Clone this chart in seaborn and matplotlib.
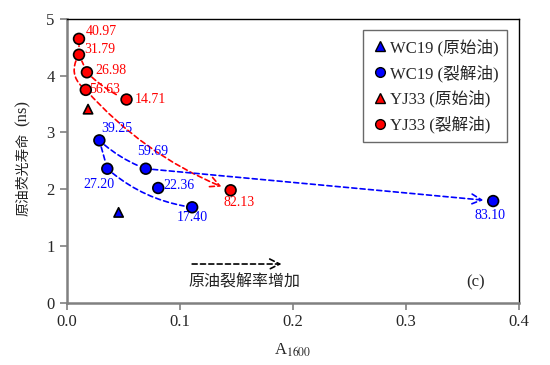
import numpy as np
import pandas as pd
import matplotlib
matplotlib.use('Agg')
import matplotlib.pyplot as plt
import seaborn as sns
from matplotlib.lines import Line2D

#DATA
#YJ33 cracked oil (red circles)
yj33_x = [0.011, 0.011, 0.018, 0.017, 0.053, 0.145]
yj33_y = [4.65, 4.37, 4.06, 3.75, 3.58, 1.98]
yj33_lab = ['40.97', '31.79', '26.98', '56.63', '14.71', '82.13']
#WC19 cracked oil (blue circles)
wc19_x = [0.029, 0.036, 0.070, 0.081, 0.111, 0.377]
wc19_y = [2.86, 2.36, 2.36, 2.02, 1.68, 1.79]
wc19_lab = ['39.25', '27.20', '59.69', '22.36', '17.40', '83.10']
#original oils (triangles)
orig_name = ['WC19', 'YJ33']
orig_x = [0.046, 0.019]
orig_y = [1.59, 3.41]

xticks = [0.0, 0.1, 0.2, 0.3, 0.4]
yticks = [0, 1, 2, 3, 4, 5]

RED = '#FF0000'
BLUE = '#0000FF'

sns.set_theme(style='ticks')
plt.rcParams['font.family'] = ['Liberation Serif', 'Noto Sans CJK SC']
plt.rcParams['mathtext.fontset'] = 'stix'

cracked = pd.concat([
    pd.DataFrame({'x': wc19_x, 'y': wc19_y, 'oil': 'WC19'}),
    pd.DataFrame({'x': yj33_x, 'y': yj33_y, 'oil': 'YJ33'})])
orig = pd.DataFrame({'x': orig_x, 'y': orig_y, 'oil': orig_name})
pal = {'WC19': BLUE, 'YJ33': RED}

fig = plt.figure(figsize=(5.5, 3.65), dpi=100)
ax = fig.add_axes([0.121, 0.171, 0.823, 0.777])

sns.scatterplot(data=orig, x='x', y='y', hue='oil', palette=pal, marker='^', s=45,
                edgecolor='black', linewidth=1.2, legend=False, ax=ax, zorder=5)
sns.scatterplot(data=cracked, x='x', y='y', hue='oil', palette=pal, marker='o', s=60,
                edgecolor='black', linewidth=1.2, legend=False, ax=ax, zorder=5)

#value labels (offsets in points)
red_off = [(5, 5.5), (4, 3.4), (6, 1), (2.6, 0), (6, 0), (-5, -9)]
blue_off = [(1, 8.5), (-17, -11.5), (-6, 12.5), (4, 2), (-11, -7.5), (-13.5, -10.5)]
for x, y, t, o in zip(yj33_x, yj33_y, yj33_lab, red_off):
    ax.annotate(t, (x, y), xytext=o, textcoords='offset points', color=RED,
                fontsize=10, va='center', ha='left', zorder=4)
for x, y, t, o in zip(wc19_x, wc19_y, wc19_lab, blue_off):
    ax.annotate(t, (x, y), xytext=o, textcoords='offset points', color=BLUE,
                fontsize=10, va='center', ha='left', zorder=4)

#dashed trend curves
def link(i, j, xs, ys, color, style='arc3,rad=0.0', head=False, sa=5, sb=6):
    ax.annotate('', xy=(xs[j], ys[j]), xytext=(xs[i], ys[i]),
                arrowprops=dict(arrowstyle='->' if head else '-', linestyle=(0, (3, 2)),
                                color=color, lw=1.2, connectionstyle=style,
                                shrinkA=sa, shrinkB=sb, mutation_scale=18), zorder=3)

link(0, 1, yj33_x, yj33_y, RED)
link(1, 2, yj33_x, yj33_y, RED)
link(2, 4, yj33_x, yj33_y, RED, 'arc3,rad=0.1')
link(1, 3, yj33_x, yj33_y, RED, 'arc3,rad=0.45', sb=0)
link(3, 5, yj33_x, yj33_y, RED, 'arc3,rad=0.12', head=True, sa=0, sb=7)
link(0, 1, wc19_x, wc19_y, BLUE)
link(1, 4, wc19_x, wc19_y, BLUE, 'arc3,rad=0.15')
link(0, 2, wc19_x, wc19_y, BLUE, 'arc3,rad=0.1')
link(2, 5, wc19_x, wc19_y, BLUE, head=True, sb=7)

#cracking-rate arrow
ax.annotate('', xy=(0.19, 0.68), xytext=(0.111, 0.68),
            arrowprops=dict(arrowstyle='->', linestyle=(0, (3, 2)), color='black',
                            lw=1.2, shrinkA=0, shrinkB=0, mutation_scale=18))
ax.text(0.157, 0.37, '原油裂解率增加', fontsize=11.5, ha='center', va='center',
        family='Noto Sans CJK SC', color='#222222')
ax.text(0.361, 0.35, '(c)', fontsize=12, ha='center', va='center')

ax.set_xlim(0, 0.4)
ax.set_ylim(0, 5)
ax.set_xticks(xticks)
ax.set_xticklabels(['%.1f' % v for v in xticks])
ax.set_yticks(yticks)
ax.tick_params(labelsize=12, direction='out', length=5, width=1.2, color='#808080')
ax.set_xlabel('A$_{1600}$', fontsize=12, labelpad=8)
ax.set_ylabel('')
#y label: Chinese part smaller than the Latin unit, as in the original
fig.text(0.042, 0.522, '原油荧光寿命', rotation=90, fontsize=10, ha='center', va='center',
         family='Noto Sans CJK SC', color='#222222')
fig.text(0.042, 0.69, '(ns)', rotation=90, fontsize=12, ha='center', va='center')
for s in ['left', 'bottom']:
    ax.spines[s].set_color('#808080')
    ax.spines[s].set_linewidth(1.8)
for s in ['top', 'right']:
    ax.spines[s].set_color('black')
    ax.spines[s].set_linewidth(1.0)

handles = [Line2D([], [], marker='^', ls='', color=BLUE, mec='black', ms=6.5),
           Line2D([], [], marker='o', ls='', color=BLUE, mec='black', ms=7),
           Line2D([], [], marker='^', ls='', color=RED, mec='black', ms=6.5),
           Line2D([], [], marker='o', ls='', color=RED, mec='black', ms=7)]
labels = ['WC19 (原始油)', 'WC19 (裂解油)', 'YJ33 (原始油)', 'YJ33 (裂解油)']
leg = ax.legend(handles, labels, loc='upper right', bbox_to_anchor=(0.973, 0.961),
                fontsize=12, frameon=True, fancybox=False, handletextpad=0.1,
                handlelength=1.0, labelspacing=0.5, borderpad=0.5, borderaxespad=0)
leg.get_frame().set_edgecolor('#444444')
leg.get_frame().set_linewidth(1.0)

fig.savefig('out.png', dpi=100)
